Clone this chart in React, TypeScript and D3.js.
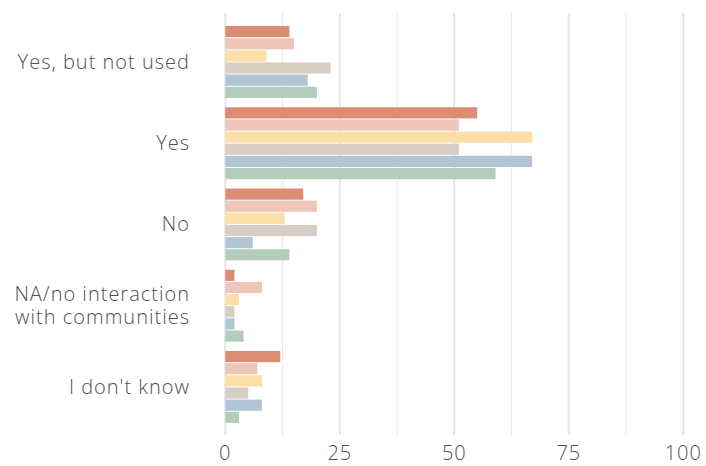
import React from "react";
import * as d3 from "d3";

const categories = ["Yes, but not used", "Yes", "No", "NA/no interaction\nwith communities", "I don't know"];
const seriesNames = ["S1", "S2", "S3", "S4", "S5", "S6"];
const series1 = [14, 55, 17, 2, 12];
const series2 = [15, 51, 20, 8, 7];
const series3 = [9, 67, 13, 3, 8];
const series4 = [23, 51, 20, 2, 5];
const series5 = [18, 67, 6, 2, 8];
const series6 = [20, 59, 14, 4, 3];
const colors = ["#db8c72", "#edc5b9", "#fadfa9", "#d8cdc3", "#b1c5d6", "#b2cdbb"];
const majorTicks = [0, 25, 50, 75, 100];
const minorTicks = [12.5, 37.5, 62.5, 87.5];

const allSeries = [series1, series2, series3, series4, series5, series6];

export default function App() {
  const W = 706, H = 466;
  const x = d3.scaleLinear().domain([0, 100]).range([225.3, 683.3]);
  const y0 = d3.scaleBand<string>().domain(categories).range([21.3, 427.6]).paddingInner(0.115).paddingOuter(0.0575);
  const y1 = d3.scaleBand<string>().domain(seriesNames).range([0, y0.bandwidth()]).paddingInner(0.08).paddingOuter(0);
  const gridTop = 13, gridBottom = 435;
  const font = "'Open Sans', sans-serif";
  return (
    <svg width={W} height={H} style={{ position: "absolute", left: 0, top: 0, background: "#fff" }}>
      {minorTicks.map((t) => (
        <line key={"m" + t} x1={x(t)} x2={x(t)} y1={gridTop} y2={gridBottom} stroke="#ebebeb" strokeWidth={1.2} />
      ))}
      {majorTicks.map((t) => (
        <line key={"M" + t} x1={x(t)} x2={x(t)} y1={gridTop} y2={gridBottom} stroke="#e8e8e8" strokeWidth={2.2} />
      ))}
      {categories.map((c, ci) => (
        <g key={c} transform={`translate(0,${y0(c)})`}>
          {allSeries.map((s, si) => (
            <rect
              key={si}
              x={x(0)}
              y={y1(seriesNames[si])}
              width={x(s[ci]) - x(0)}
              height={y1.bandwidth()}
              fill={colors[si]}
            />
          ))}
        </g>
      ))}
      {categories.map((c) => {
        const lines = c.split("\n");
        const cy = (y0(c) as number) + y0.bandwidth() / 2;
        const lh = 23;
        return (
          <text key={c} x={190} textAnchor="end" fontFamily={font} fontSize={20} fill="#505050" fontWeight={300} letterSpacing={1}>
            {lines.map((l, i) => (
              <tspan key={i} x={190} y={cy + (i - (lines.length - 1) / 2) * lh} dy="0.35em">{l}</tspan>
            ))}
          </text>
        );
      })}
      {majorTicks.map((t) => (
        <text key={"t" + t} x={x(t)} y={453} dy="0.35em" textAnchor="middle" fontFamily={font} fontSize={20} fill="#505050" fontWeight={300} letterSpacing={1}>
          {t}
        </text>
      ))}
    </svg>
  );
}
